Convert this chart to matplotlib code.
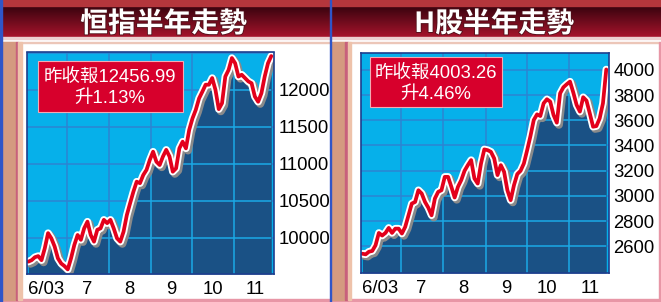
import datetime as dt

import matplotlib
matplotlib.use("Agg")
import matplotlib.pyplot as plt
import matplotlib.dates as mdates
import matplotlib.patheffects as pe
from matplotlib.patches import Rectangle
import numpy as np

W, H = 661, 302

# closing levels, evenly sampled from 2003-06-03 to 2003-11-28
hsi_close = [9680, 9700, 9740, 9755, 9700, 9860, 10065, 9995, 9885, 9725,
             9655, 9620, 9575, 9725, 9905, 10040, 9975, 10130, 10220, 10040,
             9950, 10110, 10130, 10245, 10200, 10245, 10130, 9995, 9950, 10085,
             10310, 10470, 10625, 10760, 10740, 10850, 10920, 11055, 11165, 11030,
             10985, 11100, 11190, 11100, 10895, 10940, 11210, 11300, 11210, 11460,
             11615, 11730, 11885, 11975, 12070, 12070, 12160, 12000, 11740, 11820,
             12180, 12270, 12430, 12360, 12180, 12205, 12160, 12115, 12090, 11910,
             11840, 11955, 12180, 12360, 12456.99]
hsce_close = [2541, 2536, 2557, 2563, 2608, 2706, 2685, 2706, 2746, 2706,
              2740, 2740, 2701, 2754, 2846, 2939, 2952, 3045, 3019, 2952,
              2907, 2846, 2979, 3032, 3045, 3151, 3151, 3072, 2987, 3072,
              3125, 3199, 3244, 3284, 3138, 3098, 3257, 3369, 3363, 3350,
              3297, 3165, 3244, 3191, 3045, 2966, 3085, 3173, 3199, 3257,
              3363, 3475, 3602, 3647, 3634, 3735, 3767, 3748, 3642, 3581,
              3814, 3862, 3886, 3907, 3820, 3722, 3669, 3783, 3756, 3655,
              3549, 3554, 3615, 3735, 4003.26]

month_labels = ["6/03", "7", "8", "9", "10", "11"]
hsi_ticks = [10000, 10500, 11000, 11500, 12000]
hsce_ticks = [2600, 2800, 3000, 3200, 3400, 3600, 3800, 4000]

titles = ["恒指半年走勢", "H股半年走勢"]
notes = [("昨收報12456.99", "升1.13%"), ("昨收報4003.26", "升4.46%")]

start, end = dt.date(2003, 6, 3), dt.date(2003, 11, 28)
month_starts = [dt.date(2003, m, 1) for m in range(7, 12)]
month_mids = [dt.date(2003, m, 16) for m in range(6, 12)]

LIGHT = "#06b0ea"
DARK = "#1a5185"
GRID_LIGHT = "#2c84d2"
GRID_DARK = "#1aa9e6"
RED = "#e3001b"
NUM_FONT = ["Liberation Sans Narrow", "Liberation Sans"]
CJK_FONT = ["Noto Sans CJK TC", "DejaVu Sans"]


def px_rect(x0, y0, x1, y1):
    # pixel box (top-left origin) -> figure fraction
    return [x0 / W, 1 - y1 / H, (x1 - x0) / W, (y1 - y0) / H]


def draw_frame(bg):
    grad = np.linspace(0, 1, 60)[:, None, None]
    top = np.array([0x38, 0x03, 0x0e]) / 255
    bot = np.array([0xa6, 0x14, 0x2c]) / 255
    bg.imshow(top + (bot - top) * grad, extent=(0, W, 37, 6), aspect="auto")
    bg.add_patch(Rectangle((0, 0), W, 6, color="#b4363c"))
    bg.add_patch(Rectangle((0, 37), W, 2, color="#ecd0d0"))
    bg.add_patch(Rectangle((0, 41.5), W, 1.5, color="#ecc6b8"))
    bg.add_patch(Rectangle((0, 299), W, 1.5, color="#e896a6"))
    bg.add_patch(Rectangle((659, 41.5), 1.2, 259, color="#e896a6"))
    for x0 in (1.5, 331):
        bg.add_patch(Rectangle((x0, 41.5), 14, 258, color="#d49a80"))
        bg.add_patch(Rectangle((x0 + 14, 41.5), 2.5, 258, color="#c8607c"))
        bg.add_patch(Rectangle((x0 + 16.5, 41.5), 3.5, 258, color="#eec2aa"))
    for x0 in (0, 329.5):
        bg.add_patch(Rectangle((x0, 0), 1.5, H, color="#2f55c8"))
    bg.set_xlim(0, W)
    bg.set_ylim(H, 0)


def draw_panel(fig, rect, values, yticks, ylim):
    ax = fig.add_axes(rect)
    ax.set_facecolor(LIGHT)
    x = np.linspace(mdates.date2num(start), mdates.date2num(end), len(values))
    ax.set_xlim(mdates.date2num(dt.date(2003, 6, 2)), mdates.date2num(dt.date(2003, 11, 30)))
    ax.set_ylim(*ylim)

    fill = ax.fill_between(x, values, ylim[0], color=DARK, lw=0, zorder=2)
    clip = fill.get_paths()[0]

    grid_y = yticks + [yticks[-1] + (yticks[1] - yticks[0])]
    for zorder, color in ((1, GRID_LIGHT), (3, GRID_DARK)):
        lines = [ax.axhline(v, color=color, lw=1.1, zorder=zorder) for v in grid_y]
        lines += [ax.axvline(mdates.date2num(d), color=color, lw=1.1, zorder=zorder)
                  for d in month_starts]
        if zorder == 3:
            for ln in lines:
                ln.set_clip_path(clip, ax.transData)

    ax.plot(x, values, color=RED, lw=2.7, zorder=5,
            solid_capstyle="round", solid_joinstyle="round",
            path_effects=[pe.Stroke(offset=(1.5, -1.5), linewidth=5.8, foreground="#8a8a8a"),
                          pe.Stroke(linewidth=5.4, foreground="white"),
                          pe.Normal()])

    ax.yaxis.tick_right()
    ax.set_yticks(yticks)
    ax.set_yticklabels([str(v) for v in yticks])
    ax.set_xticks([mdates.date2num(d) for d in month_mids])
    ax.set_xticklabels(month_labels)
    ax.tick_params(length=0)
    ax.tick_params(axis="y", pad=3)
    ax.tick_params(axis="x", pad=5)
    for lab in ax.get_xticklabels() + ax.get_yticklabels():
        lab.set_family(NUM_FONT)
        lab.set_fontsize(13.3)
    for sp in ax.spines.values():
        sp.set_color("#1d3e8e")
        sp.set_linewidth(1.2)
        sp.set_zorder(6)
    return ax


fig = plt.figure(figsize=(W / 100, H / 100), dpi=100)
bg = fig.add_axes([0, 0, 1, 1])
bg.axis("off")
draw_frame(bg)

draw_panel(fig, px_rect(27, 52.5, 274, 274), hsi_close, hsi_ticks, (9513, 12505))
draw_panel(fig, px_rect(361, 52.5, 609, 273), hsce_close, hsce_ticks, (2388, 4138))

ov = fig.add_axes([0, 0, 1, 1])
ov.axis("off")
ov.set_xlim(0, W)
ov.set_ylim(H, 0)

for cx, title in zip((163.5, 494), titles):
    ov.text(cx, 24, title, ha="center", va="center", color="white",
            fontsize=20, fontweight="bold", family=CJK_FONT,
            path_effects=[pe.withStroke(linewidth=1.2, foreground="#50101a")])

boxes = [(37.7, 60.5, 182.5, 111.5), (370, 57.3, 502, 107.3)]
for (x0, y0, x1, y1), (line1, line2) in zip(boxes, notes):
    ov.add_patch(Rectangle((x0, y0), x1 - x0, y1 - y0, facecolor="#d7002c",
                           edgecolor="#f3aab4", lw=0.8))
    cx = (x0 + x1) / 2
    ov.text(cx, y0 + 16.5, line1, ha="center", va="center", color="white",
            fontsize=13.3, family=["Liberation Sans", "Noto Sans CJK TC"])
    ov.text(cx, y0 + 37.5, line2, ha="center", va="center", color="white",
            fontsize=13.3, family=["Liberation Sans", "Noto Sans CJK TC"])

fig.savefig("out.png", dpi=100)
